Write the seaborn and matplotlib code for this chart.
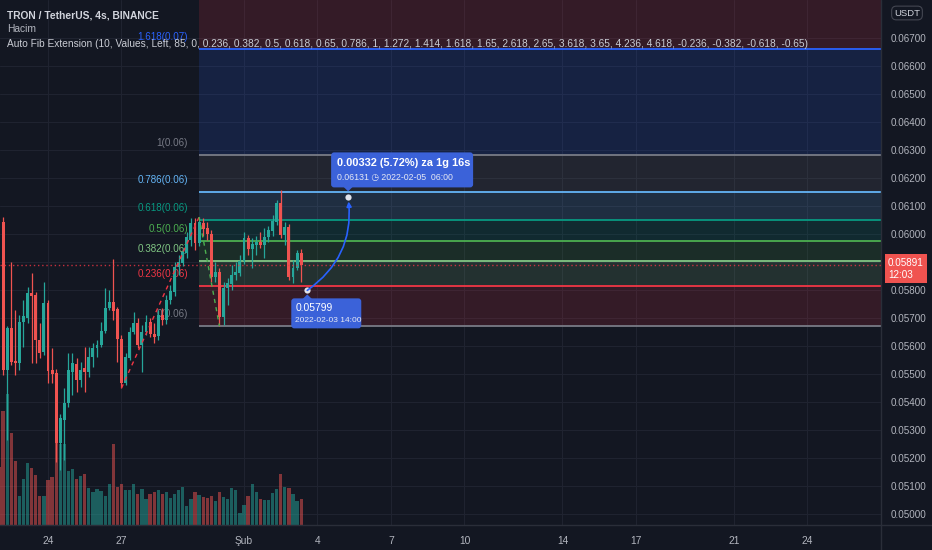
import math
import matplotlib
matplotlib.use("Agg")
import matplotlib.pyplot as plt
import matplotlib.dates as mdates
import matplotlib.patches as mpatches
from matplotlib.lines import Line2D
from matplotlib.transforms import IdentityTransform
import pandas as pd
import seaborn as sns

# ---- TRX/USDT 4h bars ----
first_bar = "2022-01-22 00:00"
opens = [0.06104, 0.06043, 0.05514, 0.05664, 0.05546, 0.05539, 0.05686, 0.05700, 0.05789, 0.05782,
         0.05621, 0.05579, 0.05754, 0.05514, 0.05504, 0.05254, 0.05336, 0.05396, 0.05507, 0.05536,
         0.05479, 0.05521, 0.05507, 0.05561, 0.05593, 0.05604, 0.05654, 0.05736, 0.05757, 0.05732,
         0.05625, 0.05468, 0.05557, 0.05650, 0.05682, 0.05604, 0.05650, 0.05686, 0.05643, 0.05636,
         0.05711, 0.05693, 0.05764, 0.05793, 0.05882, 0.05896, 0.05932, 0.05979, 0.06039, 0.05968,
         0.06039, 0.06021, 0.06000, 0.05846, 0.05864, 0.05704, 0.05807, 0.05821, 0.05854, 0.05861,
         0.05904, 0.05986, 0.05946, 0.05961, 0.05971, 0.05961, 0.05989, 0.06011, 0.06043, 0.06111,
         0.05996, 0.06025, 0.05846, 0.05879, 0.05932]
highs = [0.06114, 0.06061, 0.05671, 0.05900, 0.05729, 0.05711, 0.05764, 0.05811, 0.05861, 0.05793,
         0.05682, 0.05829, 0.05764, 0.05593, 0.05518, 0.05357, 0.05450, 0.05575, 0.05575, 0.05557,
         0.05543, 0.05596, 0.05596, 0.05611, 0.05621, 0.05686, 0.05807, 0.05800, 0.05911, 0.05739,
         0.05639, 0.05575, 0.05668, 0.05721, 0.05700, 0.05675, 0.05711, 0.05700, 0.05682, 0.05729,
         0.05736, 0.05782, 0.05818, 0.05900, 0.05925, 0.05950, 0.06007, 0.06057, 0.06057, 0.06061,
         0.06057, 0.06043, 0.06014, 0.05900, 0.05879, 0.05829, 0.05843, 0.05889, 0.05900, 0.05925,
         0.06007, 0.05996, 0.05986, 0.05993, 0.06007, 0.06021, 0.06029, 0.06068, 0.06121, 0.06157,
         0.06043, 0.06036, 0.05907, 0.05943, 0.05946]
lows = [0.06036, 0.05496, 0.05264, 0.05532, 0.05496, 0.05514, 0.05596, 0.05682, 0.05539, 0.05539,
        0.05557, 0.05568, 0.05468, 0.05468, 0.05186, 0.05157, 0.05193, 0.05382, 0.05425, 0.05436,
        0.05454, 0.05436, 0.05489, 0.05525, 0.05561, 0.05596, 0.05646, 0.05729, 0.05693, 0.05543,
        0.05450, 0.05461, 0.05550, 0.05643, 0.05593, 0.05507, 0.05639, 0.05632, 0.05611, 0.05621,
        0.05675, 0.05679, 0.05750, 0.05779, 0.05854, 0.05886, 0.05914, 0.05957, 0.05943, 0.05957,
        0.05993, 0.05979, 0.05829, 0.05829, 0.05671, 0.05675, 0.05746, 0.05800, 0.05836, 0.05850,
        0.05893, 0.05925, 0.05879, 0.05925, 0.05950, 0.05914, 0.05971, 0.05993, 0.06032, 0.05986,
        0.05961, 0.05836, 0.05825, 0.05871, 0.05829]
closes = [0.06043, 0.05514, 0.05664, 0.05543, 0.05539, 0.05686, 0.05707, 0.05789, 0.05779, 0.05621,
          0.05575, 0.05754, 0.05511, 0.05500, 0.05254, 0.05343, 0.05396, 0.05514, 0.05539, 0.05479,
          0.05514, 0.05507, 0.05561, 0.05593, 0.05604, 0.05654, 0.05736, 0.05757, 0.05725, 0.05625,
          0.05468, 0.05561, 0.05650, 0.05682, 0.05604, 0.05650, 0.05686, 0.05643, 0.05632, 0.05711,
          0.05693, 0.05764, 0.05796, 0.05882, 0.05900, 0.05936, 0.05989, 0.06039, 0.05968, 0.06043,
          0.06018, 0.06000, 0.05846, 0.05864, 0.05704, 0.05807, 0.05825, 0.05854, 0.05864, 0.05904,
          0.05986, 0.05946, 0.05964, 0.05971, 0.05961, 0.05989, 0.06014, 0.06046, 0.06111, 0.05996,
          0.06025, 0.05846, 0.05879, 0.05932, 0.05891]
# volume, millions of TRX (rough)
volumes = [58, 114, 131, 92, 64, 29, 46, 62, 57, 50,
           29, 29, 45, 48, 82, 81, 81, 54, 56, 46,
           49, 51, 37, 33, 36, 34, 29, 41, 81, 38,
           41, 35, 35, 41, 31, 36, 26, 31, 33, 35,
           31, 33, 27, 31, 35, 38, 19, 26, 33, 30,
           28, 27, 29, 24, 33, 28, 26, 37, 35, 12,
           20, 29, 41, 33, 26, 25, 25, 32, 36, 51,
           38, 37, 31, 24, 26]

# auto fib extension: swing low, swing high, retrace low (bar index)
pivot_idx = [30, 49, 54]
fib_ratios = [0, 0.236, 0.382, 0.5, 0.618, 0.786, 1, 1.618, 2.618]
fib_colors = ["#787b86", "#f23645", "#81c784", "#4caf50", "#089981",
              "#64b5f6", "#787b86", "#2962ff", "#f23645"]

# projection drawing
proj_start = ("2022-02-03 14:00", 0.05799)
proj_end = ("2022-02-05 06:00", 0.06131)
last_price = 0.05891
countdown = "12:03"

price_ticks = [0.050, 0.051, 0.052, 0.053, 0.054, 0.055, 0.056, 0.057, 0.058,
               0.059, 0.060, 0.061, 0.062, 0.063, 0.064, 0.065, 0.066, 0.067]
date_ticks = ["2022-01-24", "2022-01-27", "2022-02-01", "2022-02-04", "2022-02-07",
              "2022-02-10", "2022-02-14", "2022-02-17", "2022-02-21", "2022-02-24"]
date_labels = ["24", "27", "Şub", "4", "7", "10", "14", "17", "21", "24"]
view_start, view_end = "2022-01-22 01:00", "2022-02-27 00:00"
view_low, view_high = 0.04961, 0.06836

# ---- style ----
sns.set_theme(style="dark")
FONT = ["Liberation Sans", "DejaVu Sans"]
plt.rcParams["font.family"] = FONT

BG = "#131722"
GRID = "#1f2330"
TXT = "#b2b5be"
UP, DOWN = "#26a69a", "#ef5350"
BOX = "#3b62d9"
FS = 7.1

W, H = 932, 550
fig = plt.figure(figsize=(W / 100, H / 100), dpi=100, facecolor=BG)
ax = fig.add_axes([0, 25 / H, 881 / W, 525 / H])
ax.set_facecolor(BG)

df = pd.DataFrame({"open": opens, "high": highs, "low": lows, "close": closes, "volume": volumes})
df["time"] = pd.date_range(first_bar, periods=len(df), freq="4h")
df["x"] = mdates.date2num(df["time"])
df["up"] = df["close"] >= df["open"]
step = 4 / 24
col = df["up"].map({True: UP, False: DOWN})

# volume in the lower quarter of the pane, behind the candles
ax.bar(df["x"], df["volume"] / (df["volume"].max() * 4), width=step * 0.8, color=col,
       alpha=0.5, lw=0, transform=ax.get_xaxis_transform(), zorder=1)

# candles
ax.vlines(df["x"], df["low"], df["high"], colors=col, lw=0.9, zorder=3)
body_lo = df[["open", "close"]].min(axis=1)
body_h = (df["open"] - df["close"]).abs().clip(lower=0.00003)
ax.bar(df["x"], body_h, bottom=body_lo, width=step * 0.72, color=col, lw=0, zorder=4)

# ---- auto fib extension ----
lo1 = df["low"][pivot_idx[0]]
hi = df["high"][pivot_idx[1]]
lo2 = df["low"][pivot_idx[2]]
levels = [lo2 + r * (hi - lo1) for r in fib_ratios]
fx0 = df["x"][pivot_idx[1]]
fx1 = mdates.date2num(pd.Timestamp(view_end)) + 5
for i in range(1, len(levels)):
    ax.fill_between([fx0, fx1], levels[i - 1], levels[i], color=fib_colors[i], alpha=0.15, lw=0, zorder=2)
for r, lv, c in zip(fib_ratios, levels, fib_colors):
    if lv > view_high:
        continue
    ax.hlines(lv, fx0, fx1, color=c, lw=1.3, zorder=2.5)
    ax.annotate(f"{r:g}({lv:.2f})", xy=(fx0, lv), xytext=(-11, 12), textcoords="offset pixels",
                ha="right", va="center", color=c, fontsize=FS, zorder=2.5)

sns.lineplot(x=[df["x"][pivot_idx[0]], fx0], y=[lo1, hi], ax=ax, color="#f23645",
             lw=1, linestyle=(0, (3, 3)), zorder=5)
sns.lineplot(x=[fx0, df["x"][pivot_idx[2]]], y=[hi, lo2], ax=ax, color="#4caf50",
             lw=1, linestyle=(0, (3, 3)), zorder=5)

# last price line
ax.axhline(last_price, color="#f23645", lw=1, ls=(0, (1, 2)), alpha=0.8, zorder=5)

# ---- axes ----
ax.set_xlim(mdates.date2num(pd.Timestamp(view_start)), mdates.date2num(pd.Timestamp(view_end)))
ax.set_ylim(view_low, view_high)
ax.set_xticks(mdates.date2num(pd.to_datetime(date_ticks)))
ax.set_xticklabels(date_labels)
ax.set_yticks(price_ticks)
# the price tag hides the scale label it sits on
ax.set_yticklabels(["" if abs(p - last_price) < 0.0003 else f"{p:.5f}" for p in price_ticks])
ax.yaxis.tick_right()
ax.tick_params(axis="y", length=0, pad=7, labelsize=FS, labelcolor=TXT)
ax.tick_params(axis="x", length=0, pad=8, labelsize=FS + 0.3, labelcolor=TXT)
ax.grid(True, color=GRID, lw=0.8)
ax.set_axisbelow(True)
for s in ax.spines.values():
    s.set_visible(False)
ax.set_xlabel("")
ax.set_ylabel("")
fig.add_artist(Line2D([881 / W, 881 / W], [0, 1], color="#2a2e39", lw=1))
fig.add_artist(Line2D([0, 1], [25 / H, 25 / H], color="#2a2e39", lw=1))

# current price tag on the scale
ax.annotate(f"{last_price:.5f}\n{countdown}", xy=(1, last_price), xycoords=("axes fraction", "data"),
            xytext=(7, 7), textcoords="offset pixels", ha="left", va="top", color="white",
            fontsize=FS, linespacing=1.3, annotation_clip=False,
            bbox=dict(boxstyle="square,pad=0.35", fc="#f05350", ec="none"))

fig.text(907 / W, 1 - 13 / H, "USDT", ha="center", va="center", fontsize=6.8, color="#d1d4dc",
         bbox=dict(boxstyle="round,pad=0.25,rounding_size=0.5", fc="none", ec="#434651", lw=0.8))

# header
fig.text(7 / W, 1 - 15 / H, "TRON / TetherUS, 4s, BINANCE", ha="left", va="center",
         fontsize=7.4, fontweight="bold", color="#d1d4dc")
fig.text(7 / W, 1 - 29 / H, "Hacim", ha="left", va="center", fontsize=7.4, color=TXT)
fig.text(7 / W, 1 - 44 / H,
         "Auto Fib Extension (10, Values, Left, 85, 0, 0.236, 0.382, 0.5, 0.618, 0.65, 0.786, 1, "
         "1.272, 1.414, 1.618, 1.65, 2.618, 2.65, 3.618, 3.65, 4.236, 4.618, -0.236, -0.382, -0.618, -0.65)",
         ha="left", va="center", fontsize=7.3, color="#c9ccd4")

# ---- projection tool ----
t0, p0 = pd.Timestamp(proj_start[0]), proj_start[1]
t1, p1 = pd.Timestamp(proj_end[0]), proj_end[1]
ax_px, ay_px = ax.transData.transform((mdates.date2num(t0), p0))
bx_px, by_px = ax.transData.transform((mdates.date2num(t1), p1))
ident = IdentityTransform()

fig.add_artist(mpatches.FancyArrowPatch((ax_px, ay_px), (bx_px, by_px), connectionstyle="arc3,rad=0.3",
                                        arrowstyle="-|>", mutation_scale=7, color="#2962ff", lw=1.2,
                                        shrinkA=0, shrinkB=3, transform=ident, zorder=9))
ax.scatter([mdates.date2num(t0), mdates.date2num(t1)], [p0, p1], s=20, color="#e0e3eb", lw=0, zorder=12)

diff = p1 - p0
pct = math.floor(diff / p0 * 10000) / 100
hrs = int((t1 - t0).total_seconds() // 3600)
line1 = f"{diff:.5f} ({pct:.2f}%) za {hrs // 24}g {hrs % 24}s"
line2 = f"{p1:.5f} \u25f7 {t1:%Y-%m-%d}  {t1:%H:%M}"

fig.add_artist(mpatches.FancyBboxPatch((bx_px - 17, by_px + 10), 142, 35,
                                       boxstyle="round,pad=0,rounding_size=3", fc=BOX, ec="none",
                                       transform=ident, zorder=10))
fig.add_artist(mpatches.Polygon([(bx_px - 5, by_px + 11), (bx_px + 5, by_px + 11), (bx_px, by_px + 6)],
                                closed=True, fc=BOX, ec="none", transform=ident, zorder=10))
fig.text(bx_px - 11, by_px + 34, line1, transform=ident, ha="left", va="center", fontsize=7.9,
         fontweight="bold", color="white", zorder=11)
fig.text(bx_px - 11, by_px + 20, line2, transform=ident, ha="left", va="center", fontsize=6.3,
         color="#e6e9f5", zorder=11)

fig.add_artist(mpatches.FancyBboxPatch((ax_px - 16, ay_px - 38), 70, 30,
                                       boxstyle="round,pad=0,rounding_size=3", fc=BOX, ec="none",
                                       transform=ident, zorder=10))
fig.add_artist(mpatches.Polygon([(ax_px - 5, ay_px - 9), (ax_px + 5, ay_px - 9), (ax_px, ay_px - 4)],
                                closed=True, fc=BOX, ec="none", transform=ident, zorder=10))
fig.text(ax_px - 12, ay_px - 18, f"{p0:.5f}", transform=ident, ha="left", va="center", fontsize=7.4,
         color="white", zorder=11)
fig.text(ax_px - 12, ay_px - 30, f"{t0:%Y-%m-%d %H:%M}", transform=ident, ha="left", va="center",
         fontsize=6.0, color="#e6e9f5", zorder=11)

fig.savefig("out.png", dpi=100, facecolor=BG)
